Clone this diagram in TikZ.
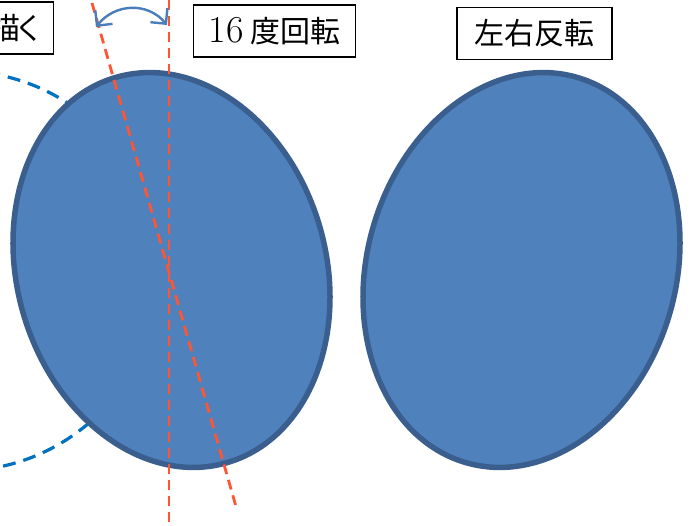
\documentclass[tikz,border=0pt]{standalone}
\usepackage{fontspec}
\newfontfamily\jp{Noto Sans CJK JP}
\usetikzlibrary{shapes.geometric,arrows.meta}
\definecolor{ovalfill}{HTML}{4F81BD}
\definecolor{ovalline}{HTML}{3A5F8E}
\definecolor{axisred}{HTML}{FF5533}
\definecolor{guideblue}{HTML}{0070C0}
\definecolor{arrowblue}{HTML}{4A7EBB}
\tikzset{
	oval/.style={ellipse, draw=ovalline, fill=ovalfill, line width=5.5pt,
		minimum width=309pt, minimum height=401pt, inner sep=0pt},
	axis/.style={draw=axisred, line width=2.8pt, dash pattern=on 10pt off 6pt},
	label box/.style={draw=black, fill=white, line width=1.1pt, minimum height=52pt,
		inner sep=0pt, font=\fontsize{30}{34}\selectfont\jp},
}
\begin{document}
\begin{tikzpicture}[x=1pt,y=-1pt]
	\useasboundingbox (0,0) rectangle (696,526);
	\clip (0,0) rectangle (696,526);
	% guide circle from the drawing step
	\coordinate (C0) at (-41,271);
	\draw[guideblue, line width=3.2pt, dash pattern=on 13pt off 8pt] (C0) circle [radius=200pt];
	% ovals
	\node (E1) at (171.5,270)	[oval, rotate=16]	{};
	\node (E2) at (521.5,270)	[oval, rotate=-16]	{};
	% axes
	\coordinate (A1) at (169,0);
	\coordinate (A2) at (169,526);
	\coordinate (B1) at (92,3);
	\coordinate (B2) at (237,510);
	\draw[axis] (A1) -- (A2);
	\draw[axis] (B1) -- (B2);
	% rotation arrow
	\coordinate (R1) at (96,27);
	\coordinate (R2) at (167,25);
	\draw[arrowblue, line width=2.4pt, {Straight Barb[length=11pt,width=22pt]}-{Straight Barb[length=11pt,width=22pt]}]
		(R1) .. controls (115,3) and (148,2) .. (R2);
	% labels
	\node (T0) at (54,28)	[label box, anchor=east, inner xsep=9pt]	{描\hspace{-6pt}く};
	\node (T1) at (274.5,31)	[label box, minimum width=162pt]	{{\fontsize{38}{40}\selectfont\rmfamily 16} 度回転};
	\node (T2) at (534.5,33.5)	[label box, minimum width=155pt]	{左右反転};
\end{tikzpicture}
\end{document}
